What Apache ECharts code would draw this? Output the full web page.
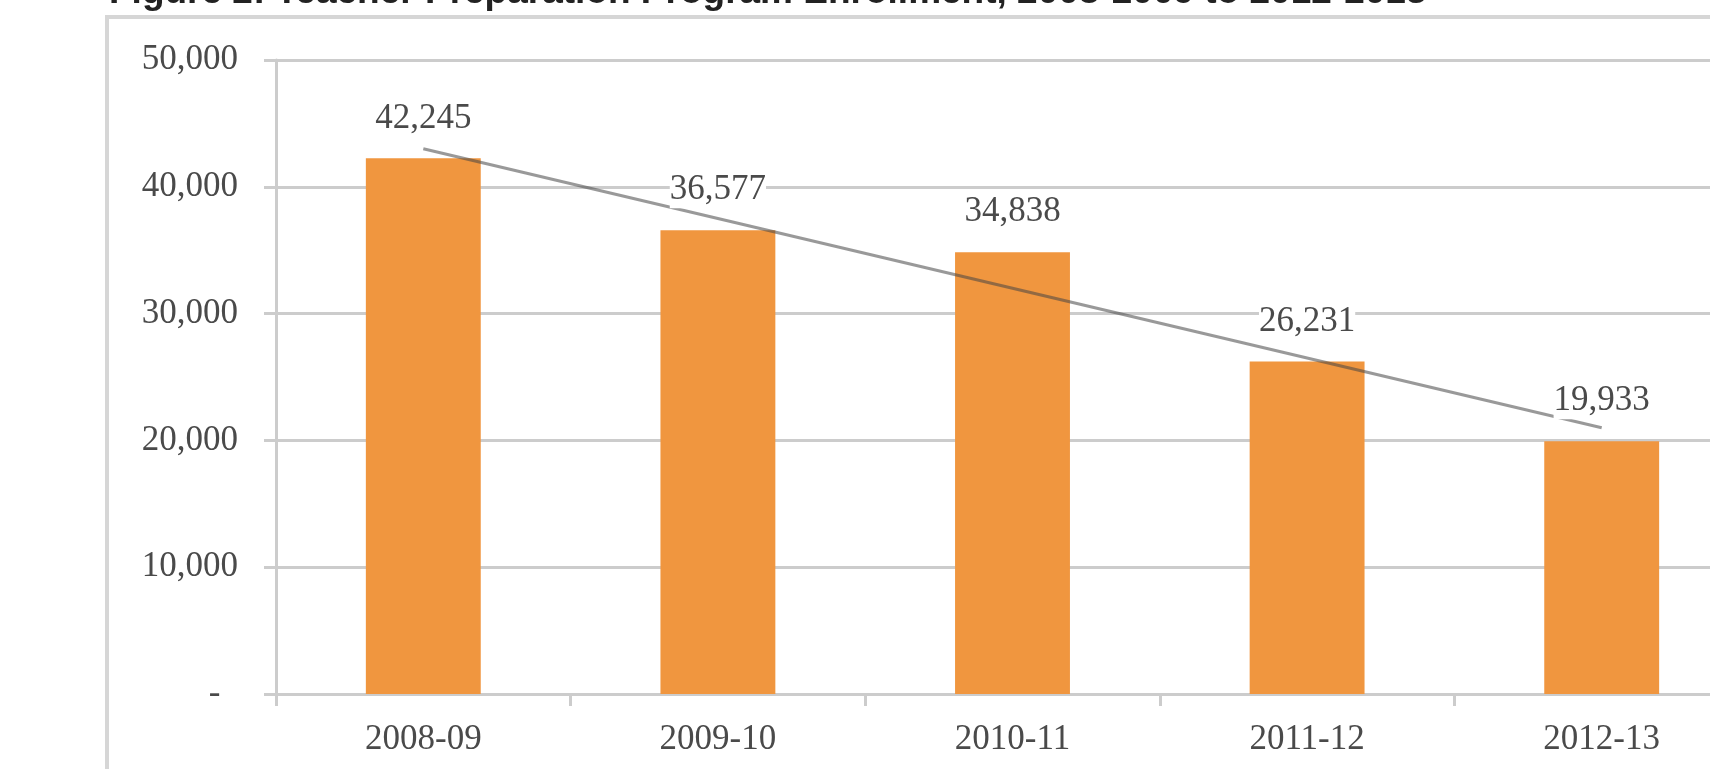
<!DOCTYPE html>
<html>
<head>
<meta charset="utf-8">
<title>Teacher Preparation Program Enrollment</title>
<script src="https://cdn.jsdelivr.net/npm/echarts@6/dist/echarts.min.js"></script>
<style>
html, body { margin: 0; padding: 0; background: #fff; overflow: hidden; }
/* the original figure is cropped on the right, so the chart runs past the window */
#chart { width: 1749px; height: 769px; }
</style>
</head>
<body>
<div id="chart"></div>
<script>
// values
var years = ['2008-09', '2009-10', '2010-11', '2011-12', '2012-13']
var enrollment = [42245, 36577, 34838, 26231, 19933]
// linear trend line, start and end as drawn (x is the category position, 1 = first bar)
var trendX = [1, 5]
var trendY = [43000, 21000]
var yTicks = [0, 10000, 20000, 30000, 40000, 50000]

var textColor = '#4a4a4a'
var gridColor = '#cccccc'
var serif = '"Liberation Serif", "Times New Roman", serif'

var trendData = trendX.map(function (x, i) { return [x, trendY[i]] })

var option = {
  animation: false,
  backgroundColor: '#fff',
  title: {
    text: 'Figure 2: Teacher Preparation Program Enrollment, 2008-2009 to 2012-2013',
    left: 104,
    top: -31,
    textStyle: { fontFamily: '"Liberation Sans", Arial, sans-serif', fontWeight: 'bold', fontSize: 37, color: '#222' }
  },
  graphic: [{
    // chart area border of the original figure
    type: 'rect',
    silent: true,
    shape: { x: 107, y: 17, width: 1700, height: 800 },
    style: { fill: null, stroke: '#d6d6d6', lineWidth: 4 }
  }],
  grid: { left: 276, right: 0, top: 60, bottom: 75, containLabel: false },
  xAxis: [{
    type: 'category',
    data: years,
    axisLine: { show: true, lineStyle: { color: gridColor, width: 3 } },
    axisTick: { show: true, length: 12, lineStyle: { color: gridColor, width: 3 } },
    axisLabel: { margin: 28, fontFamily: serif, fontSize: 35, lineHeight: 36, color: textColor },
    splitLine: { show: false }
  }, {
    type: 'value',
    min: 0.5,
    max: 5.5,
    show: false
  }],
  yAxis: {
    type: 'value',
    min: yTicks[0],
    max: yTicks[yTicks.length - 1],
    interval: yTicks[1] - yTicks[0],
    axisLine: { show: true, lineStyle: { color: gridColor, width: 3 } },
    axisTick: { show: true, length: 12, lineStyle: { color: gridColor, width: 3 } },
    axisLabel: {
      margin: 38,
      fontFamily: serif,
      fontSize: 35,
      color: textColor,
      formatter: function (v) {
        return v === 0 ? '-  ' : v.toLocaleString('en-US')
      }
    },
    splitLine: { show: true, lineStyle: { color: gridColor, width: 3 } }
  },
  series: [{
    type: 'bar',
    data: enrollment,
    barWidth: '39%',
    z: 2,
    itemStyle: { color: '#f0963f' }
  }, {
    type: 'line',
    xAxisIndex: 1,
    data: trendData,
    symbol: 'none',
    z: 3,
    lineStyle: { color: 'rgba(70,70,70,0.55)', width: 3 }
  }, {
    // same bars, invisible, only to carry the data labels above the trend line
    type: 'bar',
    data: enrollment,
    barWidth: '39%',
    barGap: '-100%',
    z: 5,
    itemStyle: { color: 'rgba(0,0,0,0)' },
    label: {
      show: true,
      position: 'top',
      distance: 22,
      fontFamily: serif,
      fontSize: 35,
      lineHeight: 36,
      color: textColor,
      backgroundColor: '#fff',
      padding: 0,
      formatter: function (p) { return p.value.toLocaleString('en-US') }
    }
  }]
}

var chart = echarts.init(document.getElementById('chart'))
chart.setOption(option)
</script>
</body>
</html>
